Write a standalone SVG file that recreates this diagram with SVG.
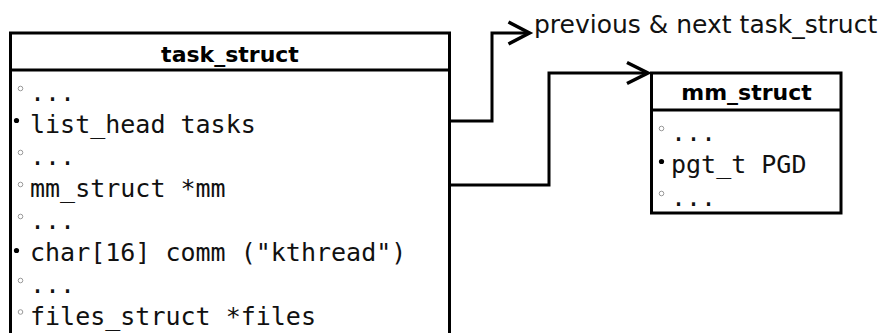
<svg xmlns="http://www.w3.org/2000/svg" width="886" height="333" viewBox="0 0 886 333">
  <style>
    .box { fill: #fff; stroke: #000; stroke-width: 3; }
    .rule { stroke: #000; stroke-width: 3; }
    .title { font-family: "DejaVu Sans", "Liberation Sans", sans-serif; font-weight: bold; font-size: 22px; fill: #000; text-anchor: middle; }
    .field { font-family: "DejaVu Sans Mono", "Liberation Mono", monospace; font-size: 25px; fill: #111; }
    .label { font-family: "DejaVu Sans", "Liberation Sans", sans-serif; font-size: 25px; fill: #111; }
    .open { fill: #fff; stroke: #999; stroke-width: 1; }
    .dot { fill: #000; }
    .wire { fill: none; stroke: #000; stroke-width: 3; }
    .head { fill: none; stroke: #000; stroke-width: 3.5; stroke-linejoin: miter; }
  </style>
  <rect width="886" height="333" fill="#fff"/>

  <!-- task_struct record (runs past the bottom edge) -->
  <g id="task_struct">
    <rect class="box" x="10.5" y="33" width="439" height="320"/>
    <line class="rule" x1="10.5" y1="70" x2="449.5" y2="70"/>
    <text class="title" x="230" y="62">task_struct</text>
    <circle class="open" cx="20.5" cy="88.5" r="2.3"/>
    <text class="field" x="30" y="101">...</text>
    <circle class="dot" cx="16.5" cy="120.5" r="2.6"/>
    <text class="field" x="30" y="133">list_head tasks</text>
    <circle class="open" cx="20.5" cy="152.5" r="2.3"/>
    <text class="field" x="30" y="165">...</text>
    <circle class="open" cx="20.5" cy="184.5" r="2.3"/>
    <text class="field" x="30" y="197">mm_struct *mm</text>
    <circle class="open" cx="20.5" cy="216.5" r="2.3"/>
    <text class="field" x="30" y="229">...</text>
    <circle class="dot" cx="16.5" cy="250.5" r="2.6"/>
    <text class="field" x="30" y="261">char[16] comm ("kthread")</text>
    <circle class="open" cx="20.5" cy="280.5" r="2.3"/>
    <text class="field" x="30" y="293">...</text>
    <circle class="open" cx="20.5" cy="312" r="2.3"/>
    <text class="field" x="30" y="324.5">files_struct *files</text>
  </g>

  <!-- mm_struct record -->
  <g id="mm_struct">
    <rect class="box" x="651.5" y="73" width="189.5" height="140"/>
    <line class="rule" x1="651.5" y1="110" x2="841" y2="110"/>
    <text class="title" x="746.5" y="100">mm_struct</text>
    <circle class="open" cx="661.5" cy="128.5" r="2.3"/>
    <text class="field" x="671" y="141">...</text>
    <circle class="dot" cx="661.5" cy="161.5" r="2.6"/>
    <text class="field" x="671" y="172.5">pgt_t PGD</text>
    <circle class="open" cx="661.5" cy="193.5" r="2.3"/>
    <text class="field" x="671" y="205.5">...</text>
  </g>

  <!-- list neighbours label -->
  <g id="tasks_target">
    <text class="label" x="534" y="33">previous &amp; next task_struct</text>
  </g>

  <!-- connectors -->
  <g id="connectors">
    <path class="wire" d="M449.5,121 H492 V33 H528"/>
    <path class="head" d="M508.5,22 L529.5,33 L508.5,44"/>
    <path class="wire" d="M449.5,185 H549 V73 H646"/>
    <path class="head" d="M627,62.5 L648,73 L627,83.5"/>
  </g>
</svg>
